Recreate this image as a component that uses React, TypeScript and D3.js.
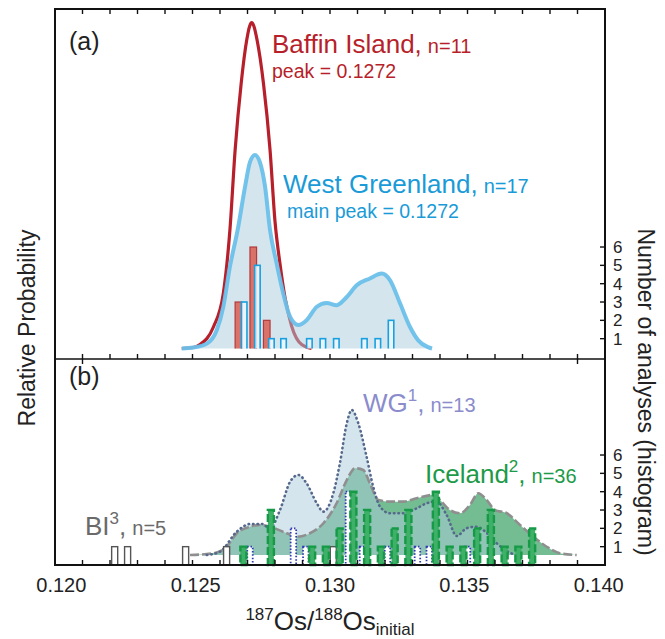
import React from 'react';
import * as d3 from 'd3';

// ---------- data ----------
const xTickValues = [0.12, 0.125, 0.13, 0.135, 0.14];
const xTickLabels = ['0.120', '0.125', '0.130', '0.135', '0.140'];
const countTicks = [1, 2, 3, 4, 5, 6];

// Panel (a) probability curves (relative probability)
const bafX = [0.12461, 0.12503, 0.12527, 0.12576, 0.12612, 0.12636, 0.12655, 0.12677, 0.12697, 0.12708, 0.12715, 0.12723, 0.12735, 0.12758, 0.12782, 0.12800, 0.12818, 0.12836, 0.12860, 0.12897, 0.12933];
const bafP = [0, 0.003, 0.012, 0.066, 0.169, 0.363, 0.609, 0.814, 0.946, 0.99, 1.0, 0.99, 0.946, 0.814, 0.609, 0.39, 0.261, 0.158, 0.070, 0.012, 0];
const wgaX = [0.12461, 0.12503, 0.12552, 0.12588, 0.12612, 0.12636, 0.12664, 0.12691, 0.12709, 0.12727, 0.12745, 0.12764, 0.12782, 0.12806, 0.12830, 0.12855, 0.12885, 0.12915, 0.12952, 0.12988, 0.13024, 0.13061, 0.13097, 0.13145, 0.13188, 0.13218, 0.13255, 0.13291, 0.13321, 0.13356, 0.13371];
const wgaP = [0, 0.003, 0.015, 0.056, 0.128, 0.251, 0.363, 0.496, 0.572, 0.594, 0.572, 0.496, 0.363, 0.261, 0.169, 0.097, 0.072, 0.087, 0.128, 0.140, 0.133, 0.158, 0.194, 0.215, 0.230, 0.210, 0.138, 0.066, 0.025, 0.004, 0];

// Panel (a) histograms
const bafBinX = [0.12667, 0.12721, 0.12770];
const bafBinN = [3, 6, 2];
const wgaBinX = [0.12688, 0.12736, 0.12787, 0.12831, 0.12925, 0.12974, 0.13023, 0.13125, 0.13174, 0.13222];
const wgaBinN = [3, 5, 1, 1, 1, 1, 1, 1, 1, 2];

// Panel (b) probability curves
const wgbX = [0.12552, 0.126, 0.12661, 0.12709, 0.12752, 0.12782, 0.12818, 0.12855, 0.12885, 0.12915, 0.12952, 0.12976, 0.13012, 0.13036, 0.13061, 0.13079, 0.13103, 0.13133, 0.13157, 0.13182, 0.13218, 0.13267, 0.13315, 0.13352, 0.13388, 0.13424, 0.13461, 0.13497, 0.13533, 0.1357, 0.13606, 0.13643, 0.13673];
const wgbP = [0, 0.023, 0.161, 0.214, 0.214, 0.184, 0.31, 0.506, 0.552, 0.494, 0.357, 0.299, 0.426, 0.632, 0.908, 1.0, 0.908, 0.678, 0.471, 0.333, 0.288, 0.288, 0.322, 0.357, 0.368, 0.276, 0.131, 0.185, 0.195, 0.152, 0.081, 0.028, 0];
const iceX = [0.12491, 0.12576, 0.12624, 0.12661, 0.12709, 0.12745, 0.12782, 0.12843, 0.12879, 0.12927, 0.12976, 0.13024, 0.13061, 0.13091, 0.13121, 0.13145, 0.13176, 0.13218, 0.13267, 0.13315, 0.13376, 0.134, 0.13436, 0.13473, 0.13509, 0.13539, 0.1357, 0.136, 0.13643, 0.13691, 0.1374, 0.13788, 0.13836, 0.13897];
const iceP = [0, 0.012, 0.057, 0.15, 0.195, 0.207, 0.195, 0.15, 0.126, 0.15, 0.219, 0.357, 0.517, 0.598, 0.586, 0.494, 0.379, 0.368, 0.368, 0.391, 0.414, 0.379, 0.31, 0.288, 0.345, 0.426, 0.379, 0.31, 0.288, 0.207, 0.126, 0.057, 0.012, 0];

// Panel (b) histograms
const biBinX = [0.12217, 0.12264, 0.12475, 0.12624, 0.13012];
const biBinN = [1, 1, 1, 1, 1];
const wgbBinX = [0.12709, 0.12867, 0.12912, 0.13067, 0.13118, 0.13209, 0.13318, 0.13361, 0.1350];
const wgbBinN = [1, 2, 1, 4, 1, 1, 1, 1, 1];
const iceBinX = [0.12685, 0.12785, 0.12935, 0.12985, 0.13035, 0.13085, 0.13135, 0.13185, 0.13235, 0.13285, 0.13385, 0.13435, 0.13485, 0.13535, 0.13585, 0.13635, 0.13685, 0.13735];
const iceBinN = [1, 3, 1, 1, 2, 4, 3, 1, 2, 3, 4, 1, 1, 2, 3, 1, 1, 2];

// ---------- layout ----------
const W = 665, H = 639;
const L = 55, R = 605, TOP = 9, MID = 359, BOT = 565;
const FONT = 'Liberation Sans, Arial, Helvetica, sans-serif';

export default function App() {
  const x = d3.scaleLinear().domain([0.12, 0.14]).range([L, R]);
  const yA = d3.scaleLinear().domain([0, 1]).range([348.5, 22.7]);
  const nA = d3.scaleLinear().domain([0, 6]).range([357, 357 - 6 * 18.33]);
  const yB = d3.scaleLinear().domain([0, 1]).range([555, 410]);
  const nB = d3.scaleLinear().domain([0, 6]).range([565, 565 - 6 * 18.33]);

  const zip = (a: number[], b: number[]) => a.map((v, i) => [v, b[i]] as [number, number]);

  const mkLine = (ys: d3.ScaleLinear<number, number>) =>
    d3.line<[number, number]>().x(d => x(d[0])).y(d => ys(d[1])).curve(d3.curveMonotoneX);
  const mkArea = (ys: d3.ScaleLinear<number, number>) =>
    d3.area<[number, number]>().x(d => x(d[0])).y0(ys(0)).y1(d => ys(d[1])).curve(d3.curveMonotoneX);

  const lineA = mkLine(yA), areaA = mkArea(yA);
  const lineB = mkLine(yB), areaB = mkArea(yB);

  const minor = d3.range(1, 20).map(i => 0.12 + i * 0.001);

  const bars = (
    xs: number[], ns: number[], ns_scale: d3.ScaleLinear<number, number>, w: number,
    props: React.SVGProps<SVGRectElement>, key: string
  ) =>
    xs.map((v, i) => {
      const x0 = x(v - w / 2), x1 = x(v + w / 2);
      const yt = ns_scale(ns[i]);
      return <rect key={key + i} x={x0} y={yt} width={x1 - x0} height={ns_scale(0) - yt} {...props} />;
    });

  const labelX = (v: number) => 330 + (x(v) - 330) * 0.977;

  return (
    <svg width={W} height={H} style={{ position: 'absolute', left: 0, top: 0, background: '#fff' }}
      fontFamily={FONT}>
      <defs>
        <clipPath id="clipA"><rect x={L} y={TOP} width={R - L} height={348.5 - TOP} /></clipPath>
      </defs>

      {/* ---------- panel (a) ---------- */}
      <path d={lineA(zip(bafX, bafP)) || ''} fill="none" stroke="#b71f2b" strokeWidth={3.2} />
      <path d={areaA(zip(wgaX, wgaP)) || ''} fill="#a9cbdc" fillOpacity={0.5} />
      <g clipPath="url(#clipA)">
        {bars(bafBinX, bafBinN, nA, 0.00024, { fill: '#d9665b', fillOpacity: 0.9, stroke: '#b23a3c', strokeWidth: 1.2 }, 'ba')}
        {bars(wgaBinX, wgaBinN, nA, 0.0002, { fill: '#eef7fb', fillOpacity: 0.85, stroke: '#18a0e0', strokeWidth: 1.6 }, 'wa')}
      </g>
      <path d={lineA(zip(wgaX, wgaP)) || ''} fill="none" stroke="#6cc0ea" strokeWidth={4} strokeOpacity={0.95} />

      {/* ---------- panel (b) ---------- */}
      <path d={areaB(zip(iceX, iceP)) || ''} fill="#74bd92" />
      <path d={areaB(zip(wgbX, wgbP)) || ''} fill="#a9cbdc" fillOpacity={0.5} />
      <path d={lineB(zip(iceX, iceP)) || ''} fill="none" stroke="#8f8f8f" strokeWidth={2.6} strokeDasharray="9,3" />
      <path d={lineB(zip(wgbX, wgbP)) || ''} fill="none" stroke="#56698c" strokeWidth={2.6} strokeDasharray="0.5,4" strokeLinecap="round" />
      {bars(biBinX, biBinN, nB, 0.00022, { fill: '#fff', stroke: '#555', strokeWidth: 1.4 }, 'bi')}
      {bars(wgbBinX, wgbBinN, nB, 0.0002, { fill: '#fff', stroke: '#2f3bb0', strokeWidth: 1.8, strokeDasharray: '1.5,1.8' }, 'wb')}
      {bars(iceBinX, iceBinN, nB, 0.00022, { fill: '#3fb067', stroke: '#169a47', strokeWidth: 2.4, strokeDasharray: '8,3' }, 'ib')}

      {/* ---------- frame & ticks ---------- */}
      <rect x={L} y={TOP} width={R - L} height={BOT - TOP} fill="none" stroke="#111" strokeWidth={2} />
      <line x1={L} x2={R} y1={MID} y2={MID} stroke="#111" strokeWidth={1.6} />
      {minor.map((v, i) => (
        <g key={'t' + i} stroke="#111" strokeWidth={1.4}>
          <line x1={x(v)} x2={x(v)} y1={TOP} y2={TOP + 5} />
          <line x1={x(v)} x2={x(v)} y1={BOT} y2={BOT - 5} />
          <line x1={x(v)} x2={x(v)} y1={MID} y2={MID - 5} />
        </g>
      ))}
      {[0.121, 0.139].map((v, i) => (
        <line key={'c' + i} x1={x(v)} x2={x(v)} y1={MID} y2={MID + 5} stroke="#111" strokeWidth={1.4} />
      ))}
      {countTicks.map(c => (
        <g key={'n' + c}>
          <line x1={R} x2={R - 5} y1={nA(c)} y2={nA(c)} stroke="#111" strokeWidth={1.4} />
          <line x1={R} x2={R - 5} y1={nB(c)} y2={nB(c)} stroke="#111" strokeWidth={1.4} />
          <text x={613} y={nA(c)} dy="0.36em" fontSize={17} fill="#222">{c}</text>
          <text x={613} y={nB(c)} dy="0.36em" fontSize={17} fill="#222">{c}</text>
        </g>
      ))}
      {xTickValues.map((v, i) => (
        <text key={'xl' + i} x={labelX(v)} y={592} textAnchor="middle" fontSize={20} fill="#222">{xTickLabels[i]}</text>
      ))}

      {/* ---------- axis titles ---------- */}
      <text transform="translate(35,328) rotate(-90)" textAnchor="middle" fontSize={23} fill="#222">Relative Probability</text>
      <text transform="translate(638,392) rotate(90)" textAnchor="middle" fontSize={23} fill="#222">Number of analyses (histogram)</text>
      <text x={330} y={630} textAnchor="middle" fill="#222">
        <tspan fontSize={17} dy={-10}>187</tspan>
        <tspan fontSize={26} dy={10}>Os/</tspan>
        <tspan fontSize={17} dy={-10}>188</tspan>
        <tspan fontSize={26} dy={10}>Os</tspan>
        <tspan fontSize={17} dy={5}>initial</tspan>
      </text>

      {/* ---------- panel labels ---------- */}
      <text x={69} y={50} fontSize={25} fill="#222">(a)</text>
      <text x={69} y={385} fontSize={25} fill="#222">(b)</text>

      {/* ---------- legends ---------- */}
      <text x={272} y={53} fill="#b71f2b">
        <tspan fontSize={26}>Baffin Island,</tspan>
        <tspan fontSize={20} dx={6}>n=11</tspan>
      </text>
      <text x={272} y={78} fontSize={19.5} fill="#b71f2b">peak = 0.1272</text>

      <text x={283} y={193} fill="#1a9bd7">
        <tspan fontSize={26}>West Greenland,</tspan>
        <tspan fontSize={20} dx={6}>n=17</tspan>
      </text>
      <text x={287} y={218} fontSize={19.5} fill="#1a9bd7">main peak = 0.1272</text>

      <text x={363} y={412} fill="#8a8ccc">
        <tspan fontSize={26}>WG</tspan>
        <tspan fontSize={17} dy={-11}>1</tspan>
        <tspan fontSize={26} dy={11}>,</tspan>
        <tspan fontSize={20} dx={6}>n=13</tspan>
      </text>
      <text x={425} y={483} fill="#1d9a48">
        <tspan fontSize={26}>Iceland</tspan>
        <tspan fontSize={17} dy={-11}>2</tspan>
        <tspan fontSize={26} dy={11}>,</tspan>
        <tspan fontSize={20} dx={6}>n=36</tspan>
      </text>
      <text x={85} y={535} fill="#6a6a6a">
        <tspan fontSize={26}>BI</tspan>
        <tspan fontSize={17} dy={-11}>3</tspan>
        <tspan fontSize={26} dy={11}>,</tspan>
        <tspan fontSize={20} dx={6}>n=5</tspan>
      </text>
    </svg>
  );
}
